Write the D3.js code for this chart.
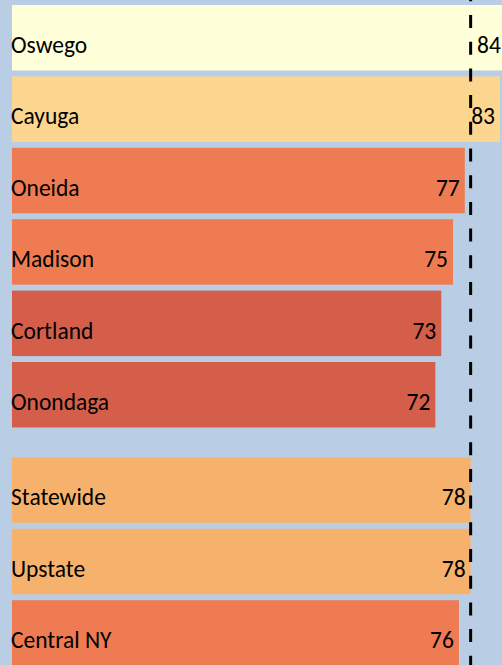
<!DOCTYPE html>
<html>
<head>
<meta charset="utf-8">
<script src="https://cdn.jsdelivr.net/npm/d3@7"></script>
<style>
  html, body { margin: 0; padding: 0; background: #b9cde5; }
  svg { display: block; }
</style>
</head>
<body>
<div id="chart"></div>
<script>
  const counties = ["Oswego", "Cayuga", "Oneida", "Madison", "Cortland", "Onondaga"];
  const countyValues = [84, 83, 77, 75, 73, 72];
  const regions = ["Statewide", "Upstate", "Central NY"];
  const regionValues = [78, 78, 76];
  const referenceValue = 78;

  const width = 502;
  const height = 665;
  const groupGap = 24;

  const rows = counties.map((name, i) => ({ name, value: countyValues[i], group: 0 }))
    .concat(regions.map((name, i) => ({ name, value: regionValues[i], group: 1 })));

  const svg = d3.select("#chart").append("svg")
    .attr("width", width)
    .attr("height", height);

  svg.append("rect")
    .attr("width", width)
    .attr("height", height)
    .attr("fill", "#b9cde5");

  const x = d3.scaleLinear().domain([0, 85]).range([12, 12 + 85 * 5.88]);

  const y = d3.scaleBand()
    .domain(rows.map((d) => d.name))
    .range([2.04, 2.04 + rows.length * 71.4])
    .paddingInner(0.083)
    .paddingOuter(0.0415);

  const yPos = (d) => y(d.name) + (d.group ? groupGap : 0);

  const color = d3.scaleThreshold()
    .domain([74, 77.5, 80, 83.5])
    .range(["#d45e4a", "#ee7b51", "#f6b26c", "#fcd68f", "#ffffd9"]);

  const bar = svg.append("g")
    .selectAll("g")
    .data(rows)
    .join("g")
    .attr("transform", (d) => `translate(0,${yPos(d)})`);

  bar.append("rect")
    .attr("x", x(0))
    .attr("width", (d) => x(d.value) - x(0))
    .attr("height", y.bandwidth())
    .attr("fill", (d) => color(d.value));

  svg.append("line")
    .attr("x1", x(referenceValue))
    .attr("x2", x(referenceValue))
    .attr("y1", 0)
    .attr("y2", height)
    .attr("stroke", "#000")
    .attr("stroke-width", 3)
    .attr("stroke-dasharray", "13 13.7")
    .attr("stroke-dashoffset", 11.7);

  const label = svg.append("g")
    .attr("font-family", "Carlito, Calibri, Lato, sans-serif")
    .attr("font-size", 23.5)
    .attr("fill", "#000")
    .selectAll("g")
    .data(rows)
    .join("g")
    .attr("transform", (d) => `translate(0,${yPos(d)})`);

  label.append("text")
    .attr("x", 11)
    .attr("y", 48)
    .text((d) => d.name);

  label.append("text")
    .attr("x", (d) => x(d.value) - 5)
    .attr("y", 48)
    .attr("text-anchor", "end")
    .text((d) => d.value);
</script>
</body>
</html>
